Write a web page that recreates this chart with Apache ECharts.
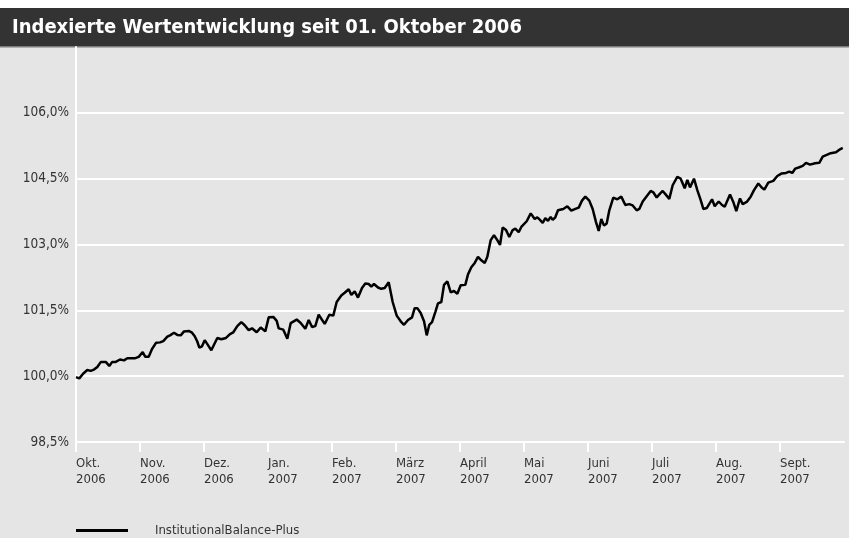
<!DOCTYPE html>
<html><head><meta charset="utf-8">
<script src="https://cdn.jsdelivr.net/npm/echarts@6/dist/echarts.min.js"></script>
<style>html,body{margin:0;padding:0;background:#fff}#c{width:849px;height:538px}</style>
</head><body><div id="c"></div>
<script>
const titleText = 'Indexierte Wertentwicklung seit 01. Oktober 2006';
const seriesName = 'InstitutionalBalance-Plus';
const monthLabels = ['Okt.','Nov.','Dez.','Jan.','Feb.','März','April','Mai','Juni','Juli','Aug.','Sept.'];
const yearLabels = ['2006','2006','2006','2007','2007','2007','2007','2007','2007','2007','2007','2007'];
const yTickValues = [98.5, 100, 101.5, 103, 104.5, 106];
const yTickLabels = ['98,5%','100,0%','101,5%','103,0%','104,5%','106,0%'];
// position in months since 01.10.2006
const monthPos = [0,0.052,0.114,0.177,0.23,0.281,0.333,0.386,0.469,0.52,
0.563,0.614,0.688,0.75,0.802,0.864,0.927,0.98,1.042,1.083,
1.136,1.188,1.25,1.313,1.364,1.427,1.469,1.531,1.583,1.636,
1.688,1.761,1.813,1.855,1.895,1.927,1.969,2.011,2.052,2.114,
2.208,2.27,2.344,2.406,2.458,2.52,2.583,2.636,2.698,2.75,
2.823,2.886,2.958,3.011,3.083,3.136,3.167,3.239,3.302,3.355,
3.448,3.511,3.583,3.636,3.688,3.739,3.792,3.886,3.958,4.02,
4.073,4.145,4.198,4.261,4.302,4.355,4.406,4.469,4.52,4.573,
4.614,4.656,4.719,4.77,4.823,4.886,4.948,5.011,5.073,5.125,
5.188,5.25,5.292,5.333,5.386,5.438,5.48,5.52,5.563,5.614,
5.656,5.708,5.75,5.802,5.855,5.906,5.958,6.011,6.083,6.125,
6.177,6.23,6.281,6.333,6.386,6.427,6.48,6.531,6.583,6.625,
6.667,6.719,6.77,6.823,6.864,6.917,6.958,7.042,7.105,7.167,
7.208,7.25,7.292,7.333,7.375,7.417,7.448,7.489,7.531,7.614,
7.677,7.739,7.802,7.855,7.906,7.958,8.02,8.073,8.125,8.167,
8.208,8.25,8.292,8.333,8.395,8.458,8.52,8.583,8.645,8.698,
8.761,8.802,8.855,8.917,8.98,9.02,9.073,9.125,9.167,9.219,
9.27,9.323,9.395,9.448,9.511,9.552,9.594,9.656,9.708,9.761,
9.802,9.855,9.886,9.938,9.98,10.042,10.094,10.136,10.219,10.27,
10.317,10.375,10.417,10.48,10.542,10.594,10.661,10.714,10.755,10.817,
10.895,10.958,11.027,11.094,11.145,11.192,11.239,11.302,11.355,11.406,
11.469,11.547,11.614,11.667,11.73,11.792,11.875,11.938,11.98];
const indexValues = [99.98,99.95,100.06,100.14,100.12,100.15,100.21,100.32,100.32,100.23,
100.32,100.32,100.38,100.36,100.41,100.41,100.41,100.44,100.55,100.44,
100.44,100.62,100.76,100.77,100.80,100.90,100.93,100.99,100.94,100.93,
101.02,101.03,100.99,100.91,100.79,100.65,100.68,100.82,100.73,100.59,
100.87,100.84,100.87,100.96,101.00,101.14,101.23,101.16,101.05,101.09,
101.00,101.11,101.02,101.34,101.35,101.26,101.09,101.06,100.85,101.21,
101.29,101.21,101.08,101.28,101.12,101.14,101.40,101.19,101.40,101.38,
101.69,101.84,101.90,101.98,101.85,101.93,101.79,102.01,102.11,102.10,
102.04,102.10,102.02,101.99,102.01,102.14,101.69,101.38,101.25,101.17,
101.28,101.34,101.55,101.55,101.44,101.25,100.93,101.17,101.23,101.46,
101.66,101.69,102.08,102.16,101.91,101.94,101.88,102.07,102.08,102.32,
102.48,102.58,102.72,102.64,102.58,102.72,103.10,103.21,103.10,102.99,
103.39,103.33,103.17,103.33,103.36,103.28,103.40,103.53,103.71,103.58,
103.62,103.56,103.49,103.60,103.54,103.63,103.56,103.62,103.78,103.81,
103.87,103.77,103.81,103.84,104.00,104.09,104.00,103.81,103.51,103.31,
103.58,103.43,103.48,103.78,104.07,104.03,104.09,103.90,103.92,103.89,
103.78,103.81,103.98,104.10,104.22,104.19,104.07,104.16,104.22,104.13,
104.04,104.35,104.54,104.50,104.28,104.47,104.30,104.50,104.24,104.01,
103.81,103.83,103.81,104.03,103.87,103.98,103.90,103.86,104.14,103.97,
103.76,104.05,103.92,103.97,104.09,104.24,104.39,104.30,104.25,104.41,
104.45,104.56,104.62,104.63,104.66,104.63,104.73,104.76,104.79,104.86,
104.82,104.85,104.86,105.00,105.04,105.08,105.10,105.17,105.20];

const lineData = monthPos.map((m, i) => [m, indexValues[i]]);
const monthTicks = monthLabels.map((_, i) => i);
const axisFont = 'DejaVu Sans Condensed';

const chart = echarts.init(document.getElementById('c'), null, {renderer: 'canvas'});
chart.setOption({
  animation: false,
  backgroundColor: '#e5e5e5',
  graphic: [
    {type: 'rect', z: 0, silent: true, shape: {x: 0, y: 0, width: 849, height: 8}, style: {fill: '#ffffff'}},
    {type: 'rect', z: 0, silent: true, shape: {x: 0, y: 8, width: 849, height: 39}, style: {fill: '#333333'}},
    {type: 'rect', z: 0, silent: true, shape: {x: 0, y: 46, width: 849, height: 1.5}, style: {fill: '#7a7a7a'}}
  ],
  title: {
    text: titleText, left: 12, top: 18, padding: 0, z: 10,
    textStyle: {color: '#ffffff', fontFamily: 'DejaVu Sans Condensed', fontWeight: 'bold', fontSize: 20}
  },
  legend: {
    left: 76, top: 524, padding: 0, icon: 'rect', itemWidth: 52, itemHeight: 3, itemGap: 10,
    data: [seriesName],
    textStyle: {color: '#333', fontFamily: axisFont, fontSize: 13, padding: [0, 0, 0, 22]}
  },
  grid: {left: 76, right: 5, top: 47, bottom: 96, containLabel: false},
  xAxis: {
    type: 'value', min: 0, max: 12, interval: 1,
    axisLine: {show: true, lineStyle: {color: '#ffffff', width: 2}},
    axisTick: {show: true, customValues: monthTicks, length: 10, lineStyle: {color: '#ffffff', width: 2}},
    axisLabel: {
      show: true, customValues: monthTicks, align: 'left', margin: 14,
      color: '#333', fontFamily: axisFont, fontSize: 13, lineHeight: 16,
      formatter: v => { const i = Math.round(v); return monthLabels[i] + '\n' + yearLabels[i]; }
    },
    splitLine: {show: false}
  },
  yAxis: {
    type: 'value', min: 98.5, max: 107.5, interval: 1.5,
    axisLine: {show: true, lineStyle: {color: '#ffffff', width: 2}},
    axisTick: {show: false},
    axisLabel: {
      show: true, margin: 7, color: '#333', fontFamily: axisFont, fontSize: 13.5,
      padding: [0, 0, 10, 0], showMaxLabel: false,
      formatter: v => { const i = yTickValues.findIndex(t => Math.abs(t - v) < 1e-6); return i >= 0 ? yTickLabels[i] : ''; }
    },
    splitLine: {show: true, showMaxLine: false, lineStyle: {color: '#ffffff', width: 2}}
  },
  series: [{
    name: seriesName, type: 'line', data: lineData, showSymbol: false, symbol: 'none',
    lineStyle: {color: '#000000', width: 2.5}, itemStyle: {color: '#000000'}, z: 5
  }]
});
</script>
</body></html>
